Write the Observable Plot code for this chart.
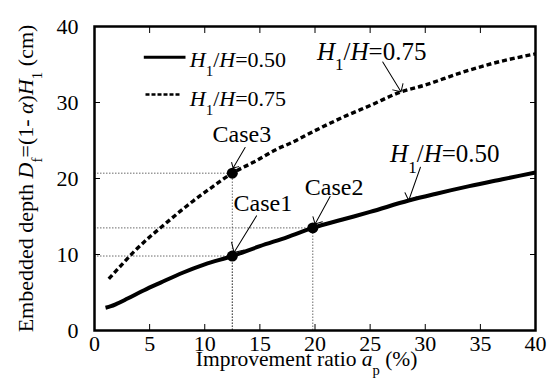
<!DOCTYPE html>
<html><head><meta charset="utf-8">
<script src="https://cdn.jsdelivr.net/npm/d3@7"></script>
<script src="https://cdn.jsdelivr.net/npm/@observablehq/plot@0.6"></script>
<style>body{margin:0;background:#fff}#chart svg{display:block}</style>
</head><body><div id="chart"></div>
<script>
// ---- data ----
const ratio050 = [1, 1.5, 2, 3, 4.5, 6, 8, 10, 12.5, 15, 17.5, 19.8, 22.5, 25, 28.5, 31, 34, 37, 40];
const depth050 = [3.0, 3.2, 3.5, 4.2, 5.3, 6.3, 7.6, 8.7, 9.8, 11.1, 12.3, 13.5, 14.6, 15.6, 17.1, 18.0, 19.0, 19.9, 20.8];
const ratio075 = [1.3, 2.5, 3.6, 5, 6.3, 7.7, 9, 10.7, 12.5, 14.5, 16.6, 17.7, 20, 22.9, 25, 27.8, 30, 33, 36, 40];
const depth075 = [6.8, 8.7, 10.4, 12.3, 13.9, 15.6, 17.1, 18.9, 20.7, 22.2, 23.9, 24.6, 26.3, 28.3, 29.6, 31.4, 32.3, 33.8, 35.1, 36.4];
const caseNames = ["Case1", "Case2", "Case3"];
const caseRatio = [12.5, 19.8, 12.5];
const caseDepth = [9.8, 13.5, 20.7];
const seriesNames = ["*H*_1_/*H*=0.50", "*H*_1_/*H*=0.75"];
const labelRatio = [28.5, 27.8];
const labelDepth = [17.1, 31.4];
const xTicks = [0, 5, 10, 15, 20, 25, 30, 35, 40];
const yTicks = [0, 10, 20, 30, 40];
const xTitle = "Improvement ratio *a*_p_ (%)";
const yTitle = "Embedded depth *D*_f_=(1- *α*)*H*_1_ (cm)";

// ---- tables ----
const s050 = ratio050.map((x, i) => ({x, y: depth050[i]}));
const s075 = ratio075.map((x, i) => ({x, y: depth075[i]}));
const cases = caseNames.map((name, i) => ({name, x: caseRatio[i], y: caseDepth[i]}));
const curveLabels = seriesNames.map((name, i) => ({name, x: labelRatio[i], y: labelDepth[i]}));

// ---- layout (pixel offsets) ----
const SERIF = "Liberation Serif";
const caseLayout = {
  Case1: {tdx: 30.5, tdy: -45.5, adx: 1.7, ady: -3.6, len: 43, rot: 211.7},
  Case2: {tdx: 21.3, tdy: -33, adx: 2.3, ady: -3.9, len: 31.4, rot: 208.5},
  Case3: {tdx: 9.5, tdy: -31, adx: 0.8, ady: -5.1, len: 23.8, rot: 210.3}
};
const labelLayout = [
  {tdx: -18.6, tdy: -38.5, len: 35.3, rot: 199.4},
  {tdx: -84, tdy: -32, len: 35, rot: 148.6}
];
const FS = 22;
const lineShape = {draw(ctx, l) { ctx.moveTo(0, 0); ctx.lineTo(0, -l); }};

const marks = [
  // reference dotted lines
  Plot.ruleY(cases, {y: "y", x1: 0, x2: "x", stroke: "#444", strokeWidth: 0.8, strokeDasharray: "1.5,1.5"}),
  Plot.ruleX(cases, {x: "x", y1: 0, y2: "y", stroke: "#444", strokeWidth: 0.8, strokeDasharray: "1.5,1.5"}),
  // curves
  Plot.line(s050, {x: "x", y: "y", curve: "monotone-x", stroke: "black", strokeWidth: 4, strokeLinecap: "butt"}),
  Plot.line(s075, {x: "x", y: "y", curve: "monotone-x", stroke: "black", strokeWidth: 3.4, strokeDasharray: "5,3", strokeLinecap: "butt", strokeLinejoin: "miter"}),
  Plot.dot(cases, {x: "x", y: "y", r: 5.5, fill: "black"}),
  // axes
  Plot.axisX({ticks: xTicks, tickSize: -6, tickFormat: () => "", label: null}),
  Plot.axisX({anchor: "top", ticks: xTicks, tickSize: -6, tickFormat: () => "", label: null}),
  Plot.axisY({ticks: yTicks, tickSize: -6, tickFormat: () => "", label: null}),
  Plot.axisY({anchor: "right", ticks: yTicks, tickSize: -6, tickFormat: () => "", label: null}),
  Plot.axisX({ticks: xTicks, tickSize: 0, tickPadding: 5, label: null, fontSize: FS, fontFamily: SERIF}),
  Plot.axisY({ticks: yTicks, tickSize: 0, tickPadding: 16, label: null, fontSize: FS, fontFamily: SERIF}),
  Plot.frame({stroke: "black", strokeWidth: 2.5}),
  // legend
  Plot.vector([seriesNames[0]], {frameAnchor: "top-left", dx: 49.3, dy: 30.7, length: 41.7, rotate: 90, anchor: "start", shape: lineShape, stroke: "black", strokeWidth: 3, strokeLinecap: "butt"}),
  Plot.vector([seriesNames[1]], {frameAnchor: "top-left", dx: 51, dy: 68, length: 34.3, rotate: 90, anchor: "start", shape: lineShape, stroke: "black", strokeWidth: 2.6, strokeDasharray: "4,2", strokeLinecap: "butt"}),
  Plot.text([seriesNames[0]], {frameAnchor: "top-left", text: d => d, dx: 95.3, dy: 40.7, textAnchor: "start", lineAnchor: "bottom", fontSize: FS, fontFamily: SERIF}),
  Plot.text([seriesNames[1]], {frameAnchor: "top-left", text: d => d, dx: 95.3, dy: 79, textAnchor: "start", lineAnchor: "bottom", fontSize: FS, fontFamily: SERIF}),
  // axis titles
  Plot.text([xTitle], {frameAnchor: "bottom", text: d => d, dx: -8.4, dy: 35.5, textAnchor: "middle", lineAnchor: "bottom", fontSize: 21.5, fontFamily: SERIF}),
  Plot.text([yTitle], {frameAnchor: "left", text: d => d, rotate: -90, dx: -61.5, dy: 0, textAnchor: "middle", lineAnchor: "bottom", fontSize: FS, fontFamily: SERIF})
];

for (const c of cases) {
  const L = caseLayout[c.name];
  marks.push(Plot.vector([c], {x: "x", y: "y", dx: L.adx, dy: L.ady, length: L.len, rotate: L.rot, anchor: "end", shape: "arrow", stroke: "black", strokeWidth: 1, r: 3}));
  marks.push(Plot.text([c], {x: "x", y: "y", text: "name", dx: L.tdx, dy: L.tdy, textAnchor: "middle", lineAnchor: "bottom", fontSize: 24, fontFamily: SERIF}));
}
curveLabels.forEach((c, i) => {
  const L = labelLayout[i];
  marks.push(Plot.vector([c], {x: "x", y: "y", length: L.len, rotate: L.rot, anchor: "end", shape: "arrow", stroke: "black", strokeWidth: 1, r: 3}));
  marks.push(Plot.text([c], {x: "x", y: "y", text: "name", dx: L.tdx, dy: L.tdy, textAnchor: "start", lineAnchor: "bottom", fontSize: 25, fontFamily: SERIF}));
});

const chart = Plot.plot({
  width: 554,
  height: 381,
  marginLeft: 94,
  marginRight: 19,
  marginTop: 26,
  marginBottom: 51,
  x: {domain: [0, 40]},
  y: {domain: [0, 40]},
  style: {fontFamily: SERIF, fontSize: "22px", color: "black", background: "white"},
  marks
});

// rich-text post-processing (italic + subscripts)
function rich(el, str, size) {
  const parts = str.split(/(\*[^*]+\*|_[^_]+_)/).filter(s => s);
  el.textContent = "";
  const NS = "http://www.w3.org/2000/svg";
  let lowered = false;
  for (const p of parts) {
    const t = document.createElementNS(NS, "tspan");
    if (p.startsWith("_")) {
      t.textContent = p.slice(1, -1);
      t.setAttribute("font-size", (size * 0.68).toFixed(1));
      t.setAttribute("dy", (size * 0.42).toFixed(1));
      lowered = true;
    } else {
      if (p.startsWith("*")) {
        t.textContent = p.slice(1, -1);
        t.setAttribute("font-style", "italic");
      } else {
        t.textContent = p;
      }
      if (lowered) { t.setAttribute("dy", (-size * 0.42).toFixed(1)); lowered = false; }
    }
    el.appendChild(t);
  }
}
chart.querySelectorAll("text").forEach(el => {
  const s = el.textContent;
  if (/\*[^*]+\*|_[^_]+_/.test(s)) {
    let size = 22;
    for (let n = el; n && n !== chart; n = n.parentNode) {
      const fs = n.getAttribute && n.getAttribute("font-size");
      if (fs) { size = parseFloat(fs); break; }
    }
    rich(el, s, size);
  }
});
document.getElementById("chart").appendChild(chart);
</script>
</body></html>
